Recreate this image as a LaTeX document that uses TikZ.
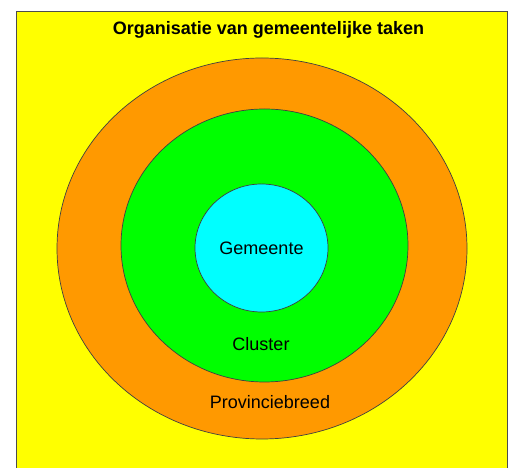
\documentclass[tikz,border=0pt]{standalone}
\usepackage{fontspec}
\setmainfont{Liberation Sans}
\usetikzlibrary{shapes.geometric, positioning}

\definecolor{bgyellow}{HTML}{FFFF00}
\definecolor{provorange}{HTML}{FF9900}
\definecolor{clusgreen}{HTML}{00FF00}
\definecolor{gemcyan}{HTML}{00FFFF}

\begin{document}
\begin{tikzpicture}[
    x=1pt, y=1pt,
    ring/.style={ellipse, draw=black!75, line width=0.7pt, inner sep=0pt},
    lbl/.style={anchor=base, font=\fontsize{18}{20}\selectfont}
  ]

  \useasboundingbox (0,0) rectangle (512,468);
  \clip (0,0) rectangle (512,468);

  \draw[fill=bgyellow, draw=black!70, line width=0.8pt] (16.5,-10) rectangle (507.5,457);

  \node[lbl, font=\fontsize{18}{20}\selectfont\bfseries] (title) at (268.5,433) {Organisatie van gemeentelijke taken};

  \node[ring, fill=provorange, minimum width=410pt, minimum height=381pt] (prov) at (262,219.5) {};
  \node[ring, fill=clusgreen, minimum width=287pt, minimum height=273pt] (clus) at (264.5,222.5) {};
  \node[ring, fill=gemcyan, minimum width=133pt, minimum height=128pt] (gem) at (261.5,220) {};

  \node[lbl] (gemlbl) at (261.5,213) {Gemeente};
  \node[lbl] (cluslbl) at (261,117.3) {Cluster};
  \node[lbl] (provlbl) at (270,59.7) {Provinciebreed};

\end{tikzpicture}
\end{document}
